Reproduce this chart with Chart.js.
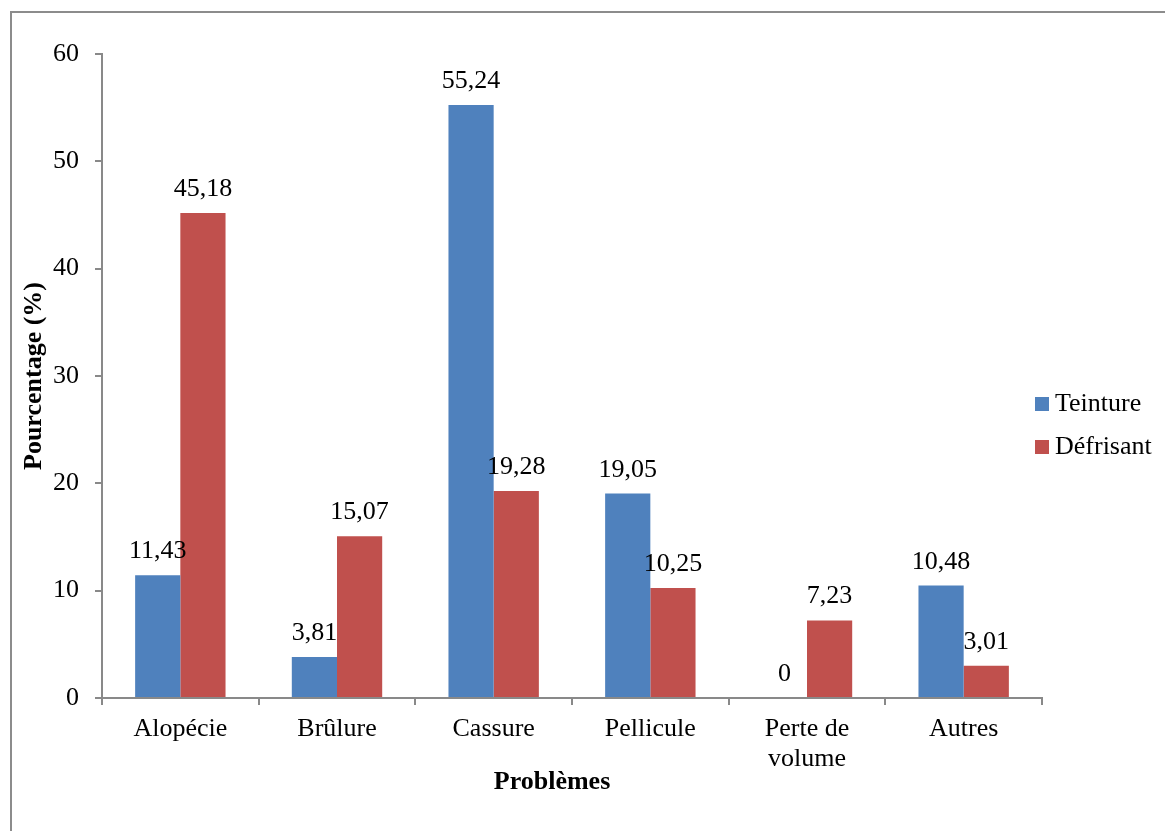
<!DOCTYPE html>
<html lang="fr">
<head>
<meta charset="utf-8">
<title>Problèmes capillaires</title>
<script src="https://cdn.jsdelivr.net/npm/chart.js@4.4.1/dist/chart.umd.min.js"></script>
<style>
  html, body { margin: 0; padding: 0; background: #ffffff; }
  #wrap { width: 1165px; height: 831px; position: relative; }
</style>
</head>
<body>
<div id="wrap"><canvas id="chart" width="1165" height="831"></canvas></div>
<script>
// Categories (problems) and the two series, in percent
const categories = ['Alopécie', 'Brûlure', 'Cassure', 'Pellicule', ['Perte de', 'volume'], 'Autres'];
const teinture = [11.43, 3.81, 55.24, 19.05, 0, 10.48];
const defrisant = [45.18, 15.07, 19.28, 10.25, 7.23, 3.01];
const seriesNames = ['Teinture', 'Défrisant'];
const yTicks = [0, 10, 20, 30, 40, 50, 60];

const FONT = '"Liberation Serif", "Times New Roman", serif';
const FONT_SIZE = 26;
const AXIS_GREY = '#898989';
const BLUE = '#4F81BD';
const RED = '#C0504D';

// Formats a value with a decimal comma, e.g. 55.24 -> "55,24"
function frNumber(v) {
  return v === 0 ? '0' : v.toFixed(2).replace('.', ',');
}

// Outer frame: a grey line along the top and left edges
const framePlugin = {
  id: 'frame',
  beforeDraw(chart) {
    const ctx = chart.ctx;
    ctx.save();
    ctx.strokeStyle = '#8c8c8c';
    ctx.lineWidth = 2;
    ctx.beginPath();
    ctx.moveTo(11, 831);
    ctx.lineTo(11, 12);
    ctx.lineTo(1165, 12);
    ctx.stroke();
    ctx.restore();
  }
};

// Value written above every bar
const valueLabels = {
  id: 'valueLabels',
  afterDatasetsDraw(chart) {
    const ctx = chart.ctx;
    ctx.save();
    ctx.font = FONT_SIZE + 'px ' + FONT;
    ctx.fillStyle = '#000000';
    ctx.textAlign = 'center';
    ctx.textBaseline = 'alphabetic';
    chart.data.datasets.forEach((ds, i) => {
      chart.getDatasetMeta(i).data.forEach((bar, j) => {
        ctx.fillText(frNumber(ds.data[j]), bar.x, bar.y - 17);
      });
    });
    ctx.restore();
  }
};

// Legend on the right, square swatch then series name
const sideLegend = {
  id: 'sideLegend',
  afterDraw(chart) {
    const ctx = chart.ctx;
    ctx.save();
    ctx.font = FONT_SIZE + 'px ' + FONT;
    ctx.textBaseline = 'middle';
    ctx.textAlign = 'left';
    chart.data.datasets.forEach((ds, i) => {
      const cy = 404 + i * 43;
      ctx.fillStyle = ds.backgroundColor;
      ctx.fillRect(1035, cy - 7, 14, 14);
      ctx.fillStyle = '#000000';
      ctx.fillText(ds.label, 1055, cy);
    });
    ctx.restore();
  }
};

// Horizontal axis title
const xTitle = {
  id: 'xTitle',
  afterDraw(chart) {
    const ctx = chart.ctx;
    ctx.save();
    ctx.font = 'bold ' + FONT_SIZE + 'px ' + FONT;
    ctx.fillStyle = '#000000';
    ctx.textAlign = 'center';
    ctx.textBaseline = 'middle';
    ctx.fillText('Problèmes', 552, 782);
    ctx.restore();
  }
};

new Chart(document.getElementById('chart'), {
  type: 'bar',
  data: {
    labels: categories,
    datasets: [
      { label: seriesNames[0], data: teinture, backgroundColor: BLUE },
      { label: seriesNames[1], data: defrisant, backgroundColor: RED }
    ]
  },
  options: {
    responsive: false,
    animation: false,
    devicePixelRatio: 1,
    layout: { padding: { left: 0, top: 54, right: 123, bottom: 0 } },
    datasets: {
      bar: { categoryPercentage: 0.577, barPercentage: 1.0, borderWidth: 0 }
    },
    plugins: {
      legend: { display: false },
      tooltip: { enabled: false }
    },
    scales: {
      x: {
        offset: true,
        border: { color: AXIS_GREY, width: 2 },
        grid: {
          offset: true,
          drawOnChartArea: false,
          drawTicks: true,
          tickLength: 7,
          color: AXIS_GREY,
          lineWidth: 2
        },
        ticks: {
          color: '#000000',
          font: { family: FONT, size: FONT_SIZE, lineHeight: 1.15 },
          padding: 9,
          maxRotation: 0,
          autoSkip: false
        },
        afterFit(scale) { scale.height = 133; }
      },
      y: {
        min: 0,
        max: 60,
        border: { color: AXIS_GREY, width: 2 },
        grid: {
          drawOnChartArea: false,
          drawTicks: true,
          tickLength: 7,
          color: AXIS_GREY,
          lineWidth: 2
        },
        afterBuildTicks(scale) {
          scale.ticks = yTicks.map(v => ({ value: v }));
        },
        ticks: {
          color: '#000000',
          font: { family: FONT, size: FONT_SIZE },
          padding: 16
        },
        title: {
          display: true,
          text: 'Pourcentage (%)',
          color: '#000000',
          font: { family: FONT, size: FONT_SIZE, weight: 'bold' },
          padding: { top: 19, bottom: 0 }
        },
        afterFit(scale) { scale.width = 102; }
      }
    }
  },
  plugins: [framePlugin, valueLabels, sideLegend, xTitle]
});
</script>
</body>
</html>
